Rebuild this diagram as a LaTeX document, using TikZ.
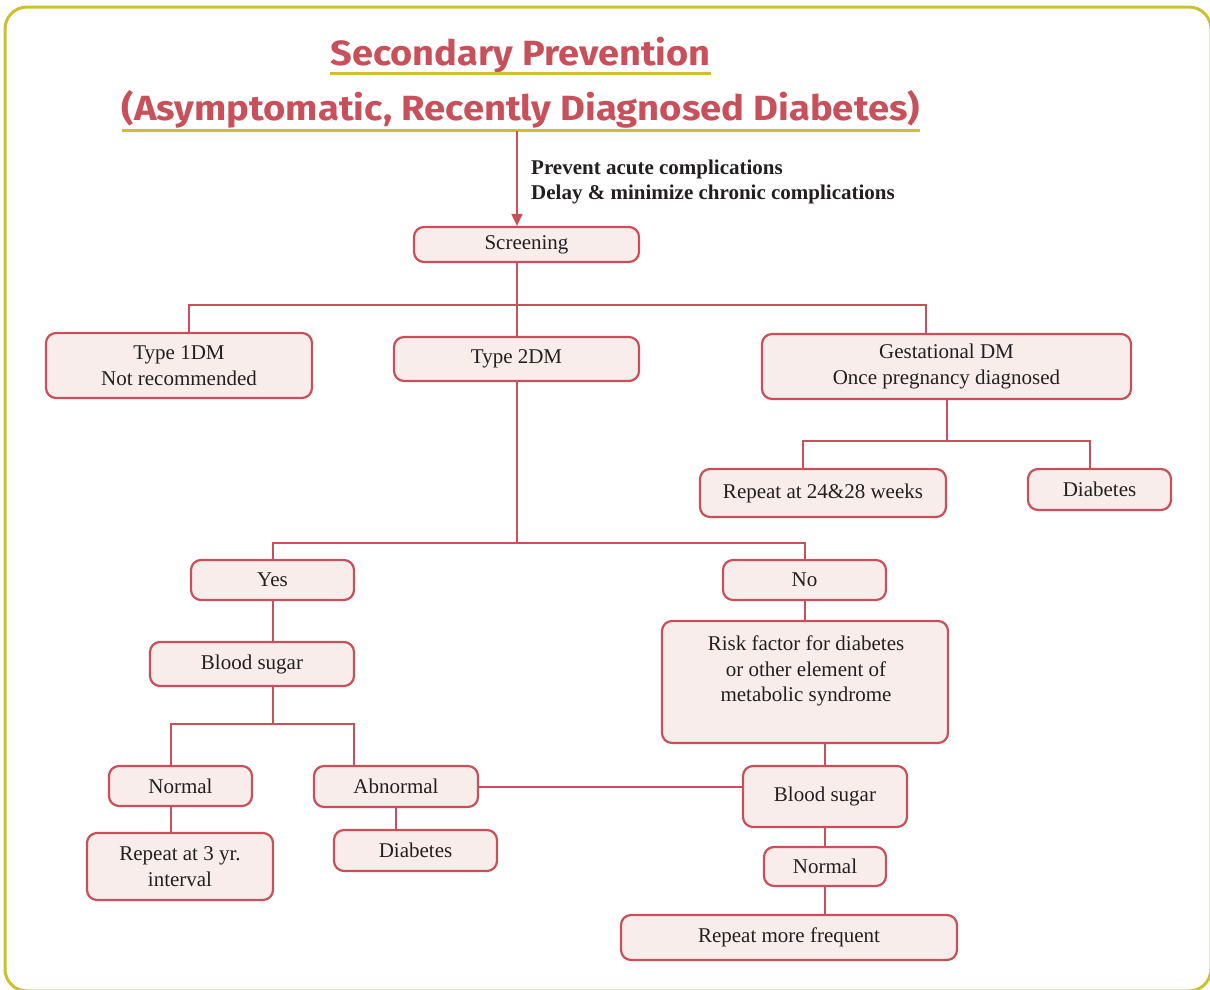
\documentclass[tikz,border=0pt]{standalone}
\usepackage{fontspec}
\setmainfont{Liberation Serif}
\newfontfamily\headfont{Fira Sans}
\usetikzlibrary{arrows.meta}

\definecolor{framegold}{RGB}{204,192,48}
\definecolor{linered}{RGB}{200,80,90}
\definecolor{boxfill}{RGB}{248,237,235}
\definecolor{ink}{RGB}{35,31,32}

\tikzset{
  box/.style={draw=linered, fill=boxfill, line width=2.2pt, rounded corners=10pt,
    text=ink, font=\fontsize{21}{25.5}\selectfont, align=center, inner sep=0pt},
  plaintext/.style={text=ink, font=\fontsize{21}{25.5}\selectfont, align=center, inner sep=0pt},
  conn/.style={draw=linered, line width=2pt},
  uline/.style={draw=framegold, line width=3pt},
  headline/.style={text=linered, inner sep=0pt, anchor=base,
    font=\headfont\bfseries\fontsize{35}{40}\selectfont},
}

\begin{document}
\begin{tikzpicture}[x=1pt, y=-1pt]
\useasboundingbox (0,0) rectangle (1210,989);
\clip (0,0) rectangle (1210,989);

% outer frame
\draw[draw=framegold, line width=3pt, rounded corners=22pt] (5,7) rectangle (1211,991);

% headings
\node[headline] (head1) at (520.5,65) {\resizebox{380pt}{\height}{Secondary Prevention}};
\node[headline] (head2) at (521,120) {\resizebox{798pt}{\height}{(Asymptomatic, Recently Diagnosed Diabetes)}};
\draw[uline] ([yshift=-8pt]head1.base west) -- ([yshift=-8pt]head1.base east);
\draw[uline] ([yshift=-10pt]head2.base west) -- ([yshift=-10pt]head2.base east);

% goals
\node[text=ink, inner sep=0pt, anchor=west, align=left,
      font=\bfseries\fontsize{21}{25}\selectfont] (goals) at (531,182)
  {Prevent acute complications\\Delay \& minimize chronic complications};

% boxes
\node[box, minimum width=225, minimum height=35] (screen) at (526.5,244.5) {Screening};
\node[box, minimum width=266, minimum height=65] (t1) at (179,365.5) {Type 1DM\\Not recommended};
\node[box, minimum width=245, minimum height=44] (t2) at (516.5,359) {Type 2DM};
\node[box, minimum width=369, minimum height=65] (gest) at (946.5,366.5) {Gestational DM\\Once pregnancy diagnosed};
\node[box, minimum width=246, minimum height=48] (rep24) at (823,493) {Repeat at 24\&28 weeks};
\node[box, minimum width=143, minimum height=41] (diab1) at (1099.5,489.5) {Diabetes};
\node[box, minimum width=163, minimum height=40] (yes) at (272.5,580) {Yes};
\node[box, minimum width=163, minimum height=40] (no) at (804.5,580) {No};
\node[box, minimum width=204, minimum height=44] (bs1) at (252,664) {Blood sugar};
\node[box, minimum width=286, minimum height=122] (risk) at (805,682) {};
\node[plaintext] (risktext) at (806,671) {Risk factor for diabetes\\or other element of\\metabolic syndrome};
\node[box, minimum width=143, minimum height=40] (norm1) at (180.5,786) {Normal};
\node[box, minimum width=164, minimum height=41] (abn) at (396,786.5) {Abnormal};
\node[box, minimum width=186, minimum height=67] (rep3) at (180,866.5) {Repeat at 3 yr.\\interval};
\node[box, minimum width=163, minimum height=41] (diab2) at (415.5,850.5) {Diabetes};
\node[box, minimum width=164, minimum height=61] (bs2) at (825,796.5) {Blood sugar};
\node[box, minimum width=122, minimum height=39] (norm2) at (825,866.5) {Normal};
\node[box, minimum width=336, minimum height=45] (repf) at (789,937.5) {Repeat more frequent};

% branching points
\coordinate (arrtop) at (517,131);
\coordinate (busL) at (189,305);
\coordinate (busR) at (926,305);
\coordinate (gL) at (803,441);
\coordinate (gR) at (1090,441);
\coordinate (yL) at (273,543);
\coordinate (yR) at (805,543);
\coordinate (nL) at (171,724);
\coordinate (nR) at (354,724);

% connectors
\draw[conn, -{Triangle[length=12pt,width=11pt]}] (arrtop) -- (arrtop |- screen.north);
\draw[conn] (screen.south -| t2.north) -- (t2.north);
\draw[conn] (t1.north -| busL) -- (busL) -- (busR) -- (busR |- gest.north);
\draw[conn] (gest.south) -- (gest.south |- gL);
\draw[conn] (rep24.north -| gL) -- (gL) -- (gR) -- (gR |- diab1.north);
\draw[conn] (t2.south) -- (t2.south |- yL);
\draw[conn] (yes.north -| yL) -- (yL) -- (yR) -- (yR |- no.north);
\draw[conn] (yes.south -| yL) -- (bs1.north -| yL);
\draw[conn] (bs1.south -| yL) -- (yL |- nL);
\draw[conn] (norm1.north -| nL) -- (nL) -- (nR) -- (nR |- abn.north);
\draw[conn] (norm1.south -| nL) -- (rep3.north -| nL);
\draw[conn] (abn.south) -- (abn.south |- diab2.north);
\draw[conn] (abn.east) -- (abn.east -| bs2.west);
\draw[conn] (no.south -| yR) -- (risk.north -| yR);
\draw[conn] (bs2.north |- risk.south) -- (bs2.north);
\draw[conn] (bs2.south) -- (norm2.north);
\draw[conn] (norm2.south) -- (norm2.south |- repf.north);
\end{tikzpicture}
\end{document}
